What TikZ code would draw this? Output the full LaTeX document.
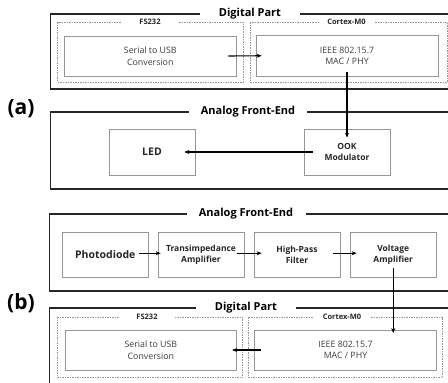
\documentclass[tikz,border=0pt]{standalone}
\usepackage{fontspec}
\setmainfont{Open Sans}
\usetikzlibrary{arrows.meta}
\definecolor{boxgray}{RGB}{150,150,150}
\definecolor{txtgray}{RGB}{60,60,60}
\begin{document}
\begin{tikzpicture}[x=1pt,y=-1pt,
  outer/.style={draw=black!85, line width=1.3pt},
  inbox/.style={draw=boxgray, line width=0.7pt, inner sep=0pt, align=center},
  dbox/.style={draw=boxgray, line width=0.6pt, dash pattern=on 1.5pt off 1pt},
  bigtitle/.style={fill=white, font=\bfseries\fontsize{11}{12}\selectfont, inner sep=0pt, minimum height=10pt},
  subtitle/.style={fill=white, text=black!85, font=\bfseries\fontsize{7.5}{9}\selectfont, minimum width=56pt, inner sep=0pt, minimum height=8pt},
  light/.style={inbox, text=txtgray, font=\fontsize{8.8}{11.5}\selectfont},
  heavy/.style={inbox, text=black!85, font=\bfseries\fontsize{8.5}{10.5}\selectfont},
  big/.style={inbox, text=black!85, font=\bfseries\fontsize{10.5}{12}\selectfont},
  arr/.style={-{Stealth[length=5pt,width=4pt]}, line width=1.1pt},
  tag/.style={font=\bfseries\fontsize{21}{24}\selectfont}]
\useasboundingbox (0,0) rectangle (448,383);
\clip (0,0) rectangle (448,383);

% ---------------- (a) ----------------
\node[tag] (taga) at (21,109) {(a)};
\draw[outer] (50.5,14) rectangle (470,89);
\draw[dbox] (57.5,22) rectangle (243,82);
\draw[dbox] (250,22) rectangle (447,82);
\node[bigtitle, minimum width=100pt] (dpA) at (250,13.5) {Digital Part};
\node[subtitle] (fsA) at (150,22) {FS232};
\node[subtitle] (cmA) at (346.5,22) {Cortex-M0};
\node[light, minimum width=172.5pt, minimum height=40pt] (serA) at (150.25,56) {Serial to USB\\Conversion};
\node[light, minimum width=182pt, minimum height=40.5pt] (ieeeA) at (347,55.75) {IEEE 802.15.7\\MAC / PHY};

\draw[outer] (50.5,112) rectangle (470,189);
\node[bigtitle, minimum width=118pt] (afA) at (248,112) {Analog Front-End};
\node[big, minimum width=86pt, minimum height=46pt] (led) at (152,152) {LED};
\node[heavy, minimum width=86pt, minimum height=46pt] (ook) at (347,152) {OOK\\Modulator};

\draw[arr] ([xshift=-8.5pt]serA.east) -- ([xshift=6pt]ieeeA.west);
\draw[arr] ([yshift=4pt]ieeeA.south) -- ([yshift=-9pt]ook.north);
\draw[arr] ([xshift=9pt]ook.west) -- ([xshift=-11pt]led.east);

% ---------------- (b) ----------------
\node[tag] (tagb) at (21,303) {(b)};
\draw[outer] (49.5,214) rectangle (470,291);
\node[bigtitle, minimum width=119pt] (afB) at (246,214) {Analog Front-End};
\node[big, minimum width=85.5pt, minimum height=45.5pt] (pd) at (105.25,254.75) {Photodiode};
\node[heavy, minimum width=86pt, minimum height=45.5pt] (tia) at (201,254.75) {Transimpedance\\Amplifier};
\node[heavy, minimum width=86pt, minimum height=45.5pt] (hpf) at (297,254.75) {High-Pass\\Filter};
\node[heavy, minimum width=86.5pt, minimum height=45.5pt] (va) at (393.25,254.75) {Voltage\\Amplifier};

\draw[outer] (49.5,308) rectangle (470,400);
\draw[dbox] (57.3,317) rectangle (242.7,377.3);
\draw[dbox] (248.3,317) rectangle (442.7,377.3);
\node[bigtitle, minimum width=100pt] (dpB) at (246,308) {Digital Part};
\node[subtitle] (fsB) at (147,317) {FS232};
\node[subtitle] (cmB) at (342,317) {Cortex-M0};
\node[light, minimum width=171.7pt, minimum height=40pt] (serB) at (150.85,350) {Serial to USB\\Conversion};
\node[light, minimum width=182.4pt, minimum height=40pt] (ieeeB) at (345.5,350) {IEEE 802.15.7\\MAC / PHY};

\draw[arr] ([xshift=-9pt,yshift=1.5pt]pd.east) -- ([xshift=3pt,yshift=1.5pt]tia.west);
\draw[arr] ([xshift=-7pt,yshift=1.5pt]tia.east) -- ([xshift=8pt,yshift=1.5pt]hpf.west);
\draw[arr] ([xshift=-7pt,yshift=1.5pt]hpf.east) -- ([xshift=7pt,yshift=1.5pt]va.west);
\coordinate (vend) at (va.south |- ieeeB.north);
\draw[arr] ([yshift=9.5pt]va.south) -- ([yshift=-3.5pt]vend);
\draw[arr] ([xshift=7.4pt]ieeeB.west) -- ([xshift=-5pt]serB.east);
\end{tikzpicture}
\end{document}
